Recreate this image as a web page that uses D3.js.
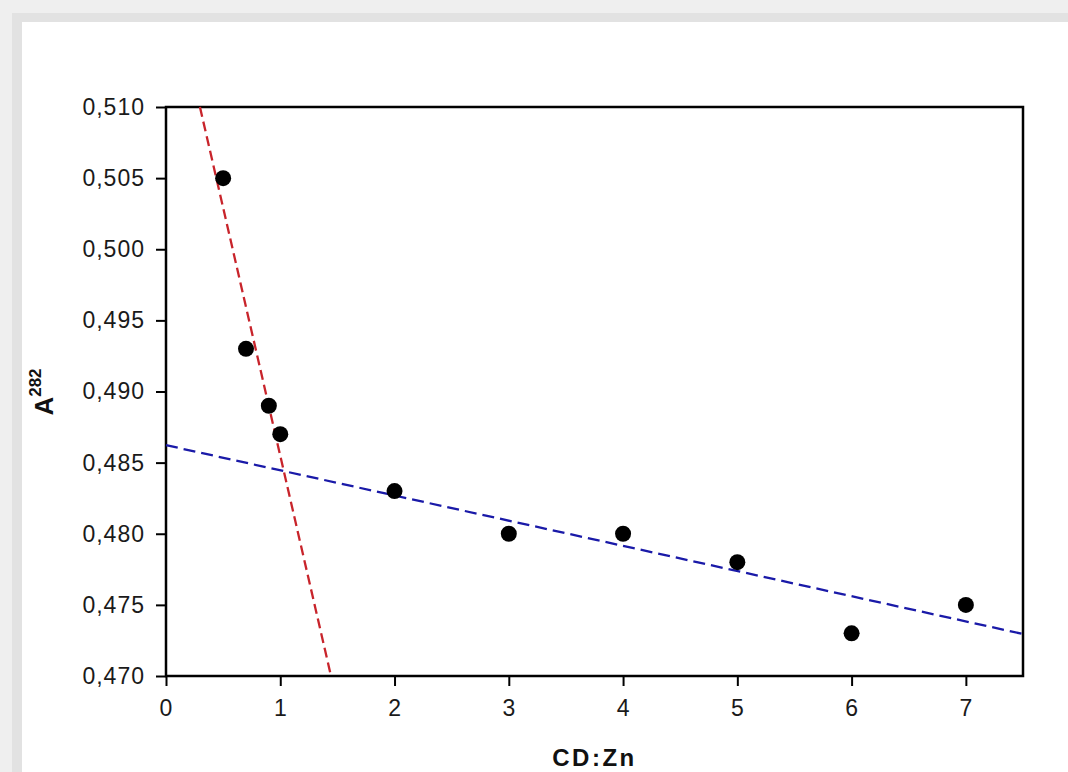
<!DOCTYPE html>
<html>
<head>
<meta charset="utf-8">
<script src="https://cdn.jsdelivr.net/npm/d3@7"></script>
<style>
  body { margin: 0; background: #efefef; }
  svg { display: block; font-family: "Liberation Sans", Arial, sans-serif; }
</style>
</head>
<body>
<script>
// CD:Zn titration, absorbance at 282 nm

var ratio = [0.5, 0.7, 0.9, 1, 2, 3, 4, 5, 6, 7];
var absorb = [0.505, 0.493, 0.489, 0.487, 0.483, 0.480, 0.480, 0.478, 0.473, 0.475];

// fitted lines, end points
var redX = [0.297, 1.444];
var redY = [0.510, 0.470];
var blueX = [0, 7.5];
var blueY = [0.48623, 0.47295];

var xTicks = [0, 1, 2, 3, 4, 5, 6, 7];
var yTicks = [0.470, 0.475, 0.480, 0.485, 0.490, 0.495, 0.500, 0.505, 0.510];

var width = 1068;
var height = 772;
var margin = {top: 107, right: 45, bottom: 95, left: 166};

var svg = d3.select("body")
  .append("svg")
  .attr("width", width)
  .attr("height", height);

// grey frame round the white sheet
svg.append("rect").attr("width", width).attr("height", height).attr("fill", "#efefef");
svg.append("rect").attr("x", 12).attr("y", 13).attr("width", width - 12).attr("height", height - 13).attr("fill", "#e2e2e2");
svg.append("rect").attr("x", 22).attr("y", 22).attr("width", width - 22).attr("height", height - 22).attr("fill", "#fff");

var w = width - margin.left - margin.right;
var h = height - margin.top - margin.bottom - 1;

var g = svg.append("g")
  .attr("transform", "translate(" + margin.left + "," + margin.top + ")");

var x = d3.scaleLinear().domain([0, 7.5]).range([0, w]);
var y = d3.scaleLinear().domain([0.470, 0.510]).range([h, 0]);

var fmt = function(d) { return d3.format(".3f")(d).replace(".", ","); };

var xAxis = g.append("g")
  .attr("transform", "translate(0," + h + ")")
  .call(d3.axisBottom(x).tickValues(xTicks).tickSize(10).tickPadding(14).tickFormat(d3.format("d")));

var yAxis = g.append("g")
  .call(d3.axisLeft(y).tickValues(yTicks).tickSize(10).tickPadding(11).tickFormat(fmt));

[xAxis, yAxis].forEach(function(a) {
  a.select(".domain").remove();
  a.selectAll("line").attr("stroke", "#000").attr("stroke-width", 2);
  a.selectAll("text")
    .attr("fill", "#1a1a1a")
    .style("font-family", "'Liberation Sans', Arial, sans-serif")
    .style("font-size", "23px")
    .style("letter-spacing", "1px");
});

// plot box
g.append("rect")
  .attr("width", w)
  .attr("height", h)
  .attr("fill", "none")
  .attr("stroke", "#000")
  .attr("stroke-width", 2.5);

var line = d3.line()
  .x(function(d) { return x(d[0]); })
  .y(function(d) { return y(d[1]); });

g.append("path")
  .datum(d3.zip(redX, redY))
  .attr("fill", "none")
  .attr("stroke", "#c8242b")
  .attr("stroke-width", 2.3)
  .attr("stroke-dasharray", "10,5")
  .attr("d", line);

g.append("path")
  .datum(d3.zip(blueX, blueY))
  .attr("fill", "none")
  .attr("stroke", "#1a1aa8")
  .attr("stroke-width", 2.3)
  .attr("stroke-dasharray", "12,6")
  .attr("d", line);

g.selectAll("circle")
  .data(d3.zip(ratio, absorb))
  .enter()
  .append("circle")
  .attr("cx", function(d) { return x(d[0]); })
  .attr("cy", function(d) { return y(d[1]); })
  .attr("r", 8)
  .attr("fill", "#000");

// axis titles
svg.append("text")
  .attr("x", margin.left + w / 2)
  .attr("y", 766)
  .attr("text-anchor", "middle")
  .style("font-size", "24px")
  .style("font-weight", "bold")
  .style("letter-spacing", "2.5px")
  .attr("fill", "#111")
  .text("CD:Zn");

var yt = svg.append("text")
  .attr("transform", "translate(53,392) rotate(-90)")
  .attr("text-anchor", "middle")
  .style("font-weight", "bold")
  .attr("fill", "#111");
yt.append("tspan").style("font-size", "26px").text("A");
yt.append("tspan").style("font-size", "17px").attr("dy", -12).text("282");
</script>
</body>
</html>
